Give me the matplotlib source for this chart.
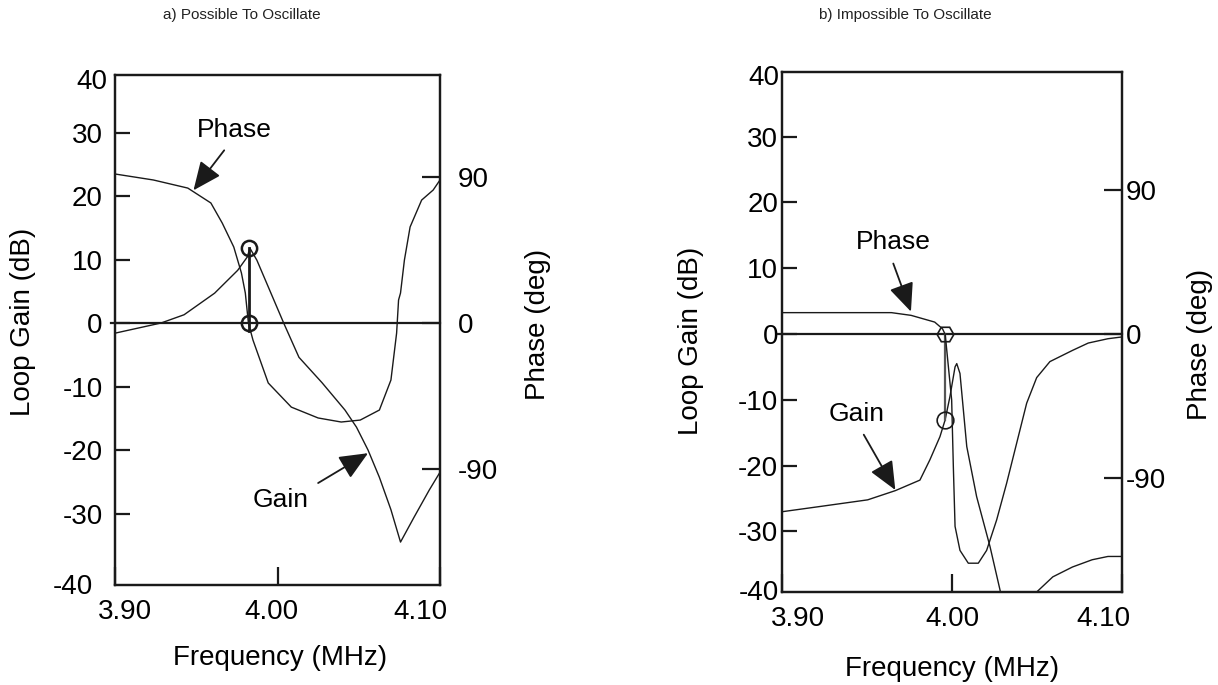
"""Loop gain / phase of an oscillator: possible vs impossible to oscillate."""

import matplotlib
matplotlib.use("Agg")
import matplotlib.pyplot as plt
from matplotlib.transforms import ScaledTranslation

# ---- panel a: possible to oscillate ----
a_phase_f = [3.900, 3.9236, 3.9448, 3.9590, 3.9660, 3.9731, 3.9778, 3.9802, 3.9821,
             3.9849, 3.9943, 4.0085, 4.0250, 4.0392, 4.0509, 4.0627, 4.0698, 4.0733,
             4.0745, 4.0757, 4.0781, 4.0816, 4.0887, 4.0958, 4.1000]
a_phase_deg = [92.0, 88.3, 83.3, 74.1, 61.7, 46.9, 30.9, 18.5, 0.0,
               -10.5, -37.0, -51.9, -58.6, -61.1, -59.9, -53.7, -35.2, -6.2,
               14.2, 18.5, 38.9, 59.3, 75.9, 82.1, 88.3]
a_gain_f = [3.900, 3.9283, 3.9425, 3.9613, 3.9755, 3.9814, 3.9830, 3.9873, 3.9943,
            4.0038, 4.0132, 4.0274, 4.0415, 4.0486, 4.0557, 4.0627, 4.0698, 4.0757,
            4.0840, 4.0934, 4.1000]
a_gain_db = [-1.6, 0.0, 1.3, 4.7, 8.3, 10.4, 11.8, 9.9, 5.7,
             0.0, -5.4, -9.4, -13.7, -16.4, -20.0, -24.3, -29.4, -34.5,
             -30.6, -26.3, -23.5]
a_mark_f = 3.9825
a_mark_db = [0.0, 11.8]

# ---- panel b: impossible to oscillate ----
b_phase_f = [3.900, 3.9643, 3.9759, 3.9898, 3.9944, 3.9960, 3.9998, 4.0008, 4.0018,
             4.0047, 4.0096, 4.0155, 4.0204, 4.0263, 4.0322, 4.0381, 4.0440, 4.0499,
             4.0577, 4.0710, 4.0803, 4.0919, 4.0993]
b_phase_deg = [13.6, 13.6, 11.9, 7.7, 3.5, 0.0, -41.0, -83.0, -120.0,
               -135.0, -143.0, -143.0, -135.0, -116.0, -93.0, -68.0, -43.0, -27.0,
               -17.0, -10.0, -5.4, -2.7, -1.7]
b_gain_f = [3.900, 3.9225, 3.9503, 3.9666, 3.9811, 3.9870, 3.9929, 3.9959, 3.9988,
            4.0018, 4.0028, 4.0047, 4.0087, 4.0145, 4.0224, 4.0283, 4.0320, 4.0450,
            4.0499, 4.0594, 4.0710, 4.0826, 4.0919, 4.0993]
b_gain_db = [-27.0, -26.2, -25.2, -23.8, -22.2, -19.1, -15.6, -13.1, -9.5,
             -5.0, -4.5, -6.0, -17.1, -24.7, -32.3, -38.9, -44.0, -48.0,
             -39.2, -36.9, -35.4, -34.3, -33.8, -33.8]
b_mark_f = 3.9959
b_mark_db = [0.0, -13.1]

gain_ticks = [-30, -20, -10, 0, 10, 20, 30]
phase_ticks = [-90, 0, 90]
freq_ticks = [3.90, 4.00, 4.10]
freq_labels = ["3.90", "4.00", "4.10"]

W, H = 1218, 685
plt.rcParams["font.family"] = ["Liberation Sans", "DejaVu Sans"]
INK = "#1a1a1a"
ARROW = "-|>,head_length=0.8,head_width=0.35"


def shift(label, dx, fig):
    label.set_transform(label.get_transform() + ScaledTranslation(dx / 100, 0, fig.dpi_scale_trans))


def panel(fig, box, ylim, ylim2, opts):
    ax = fig.add_axes(box)
    ax2 = ax.twinx()
    for a in (ax, ax2):
        for s in a.spines.values():
            s.set_linewidth(1.6)
            s.set_color(INK)
    ax.set_xlim(3.90, 4.10)
    ax.set_ylim(*ylim)
    ax2.set_ylim(*ylim2)

    ax.set_xticks(freq_ticks, freq_labels)
    ax.set_yticks(gain_ticks, [str(t) for t in gain_ticks])
    ax2.set_yticks(phase_ticks, [str(t) for t in phase_ticks])
    ax.tick_params(axis="x", direction="in", length=13, width=1.6, labelsize=20,
                   pad=opts["xpad"], color=INK, top=False)
    ax.tick_params(axis="y", direction="in", length=11, width=1.6, labelsize=20,
                   pad=opts["ypad"], color=INK)
    ax2.tick_params(axis="y", direction="in", length=13, width=1.6, labelsize=20,
                    pad=opts["y2pad"], color=INK)
    for lab, dx in zip(ax.get_xticklabels(), opts["xshift"]):
        shift(lab, dx, fig)

    # 40 / -40 at the corners, without tick marks
    ax.annotate("40", xy=(0, 1), xycoords="axes fraction", xytext=opts["top40"],
                textcoords="offset pixels", ha="right", va="center", fontsize=20)
    ax.annotate("-40", xy=(0, 0), xycoords="axes fraction", xytext=opts["bot40"],
                textcoords="offset pixels", ha="right", va="center", fontsize=20)

    ax.set_xlabel("Frequency (MHz)", fontsize=20)
    ax.xaxis.set_label_coords(*opts["xlab"])
    ax.set_ylabel("Loop Gain (dB)", fontsize=20)
    ax.yaxis.set_label_coords(*opts["ylab"])
    ax2.set_ylabel("Phase (deg)", fontsize=20)
    ax2.yaxis.set_label_coords(*opts["y2lab"])

    ax.axhline(0, xmin=-0.012, xmax=1, color=INK, lw=1.6, clip_on=False, zorder=3)
    fig.text(opts["title_x"] / W, 1 - 15 / H, opts["title"], fontsize=11,
             ha="center", va="center", color="#222222")
    return ax, ax2


fig = plt.figure(figsize=(W / 100, H / 100), dpi=100)

# panel a
ax, ax2 = panel(
    fig,
    [115 / W, 1 - 585 / H, 325 / W, 510 / H],
    (-41.26, 39.06), (-161.7, 153.1),
    dict(xpad=10, ypad=9, y2pad=13, xshift=[10, -6, -20],
         top40=(-8, -7), bot40=(-22, -2),
         xlab=(0.508, -0.118), ylab=(-0.242, 0.516), y2lab=(1.262, 0.51),
         title="a) Possible To Oscillate", title_x=242),
)
ax.plot(a_gain_f, a_gain_db, color=INK, lw=1.0)
ax2.plot(a_phase_f, a_phase_deg, color=INK, lw=1.0)
ax.plot([a_mark_f, a_mark_f], [a_mark_db[0] - 1.2, a_mark_db[1]], color=INK, lw=2.0, zorder=4)
ax.plot([a_mark_f] * 2, a_mark_db, ls="none", marker="o", ms=11, mfc="none",
        mec=INK, mew=1.8, zorder=5)
ax.text(3.9736, 30.4, "Phase", fontsize=19, ha="center", va="center")
ax.annotate("", xy=(3.9483, 20.9), xytext=(3.9672, 27.2),
            arrowprops=dict(arrowstyle=ARROW, mutation_scale=22, color=INK, lw=1.3,
                            shrinkA=0, shrinkB=0))
ax.text(4.0019, -27.9, "Gain", fontsize=19, ha="center", va="center")
ax.annotate("", xy=(4.0557, -20.5), xytext=(4.025, -25.2),
            arrowprops=dict(arrowstyle=ARROW, mutation_scale=22, color=INK, lw=1.3,
                            shrinkA=0, shrinkB=0))

# panel b
bx, bx2 = panel(
    fig,
    [782.3 / W, 1 - 592 / H, 339.4 / W, 520 / H],
    (-39.2, 39.8), (-161.0, 164.0),
    dict(xpad=10, ypad=3, y2pad=3, xshift=[16, 0, -18],
         top40=(-3, -6), bot40=(-3, -1),
         xlab=(0.5, -0.124), ylab=(-0.231, 0.483), y2lab=(1.191, 0.477),
         title="b) Impossible To Oscillate", title_x=905),
)
bx.plot(b_gain_f, b_gain_db, color=INK, lw=1.0)
bx2.plot(b_phase_f, b_phase_deg, color=INK, lw=1.0)
bx.plot([b_mark_f, b_mark_f], b_mark_db, color="#555555", lw=1.6, zorder=4)
bx.plot([b_mark_f], [b_mark_db[0]], ls="none", marker="H", ms=12, mfc="none",
        mec=INK, mew=1.2, zorder=5)
bx.plot([b_mark_f], [b_mark_db[1]], ls="none", marker="o", ms=12, mfc="none",
        mec=INK, mew=1.2, zorder=5)
bx.text(3.9654, 13.9, "Phase", fontsize=19, ha="center", va="center")
bx.annotate("", xy=(3.9758, 3.4), xytext=(3.9654, 10.7),
            arrowprops=dict(arrowstyle=ARROW, mutation_scale=22, color=INK, lw=1.3,
                            shrinkA=0, shrinkB=0))
bx.text(3.9438, -12.1, "Gain", fontsize=19, ha="center", va="center")
bx.annotate("", xy=(3.9666, -23.7), xytext=(3.948, -15.3),
            arrowprops=dict(arrowstyle=ARROW, mutation_scale=22, color=INK, lw=1.3,
                            shrinkA=0, shrinkB=0))

fig.savefig("out.png", dpi=100)
